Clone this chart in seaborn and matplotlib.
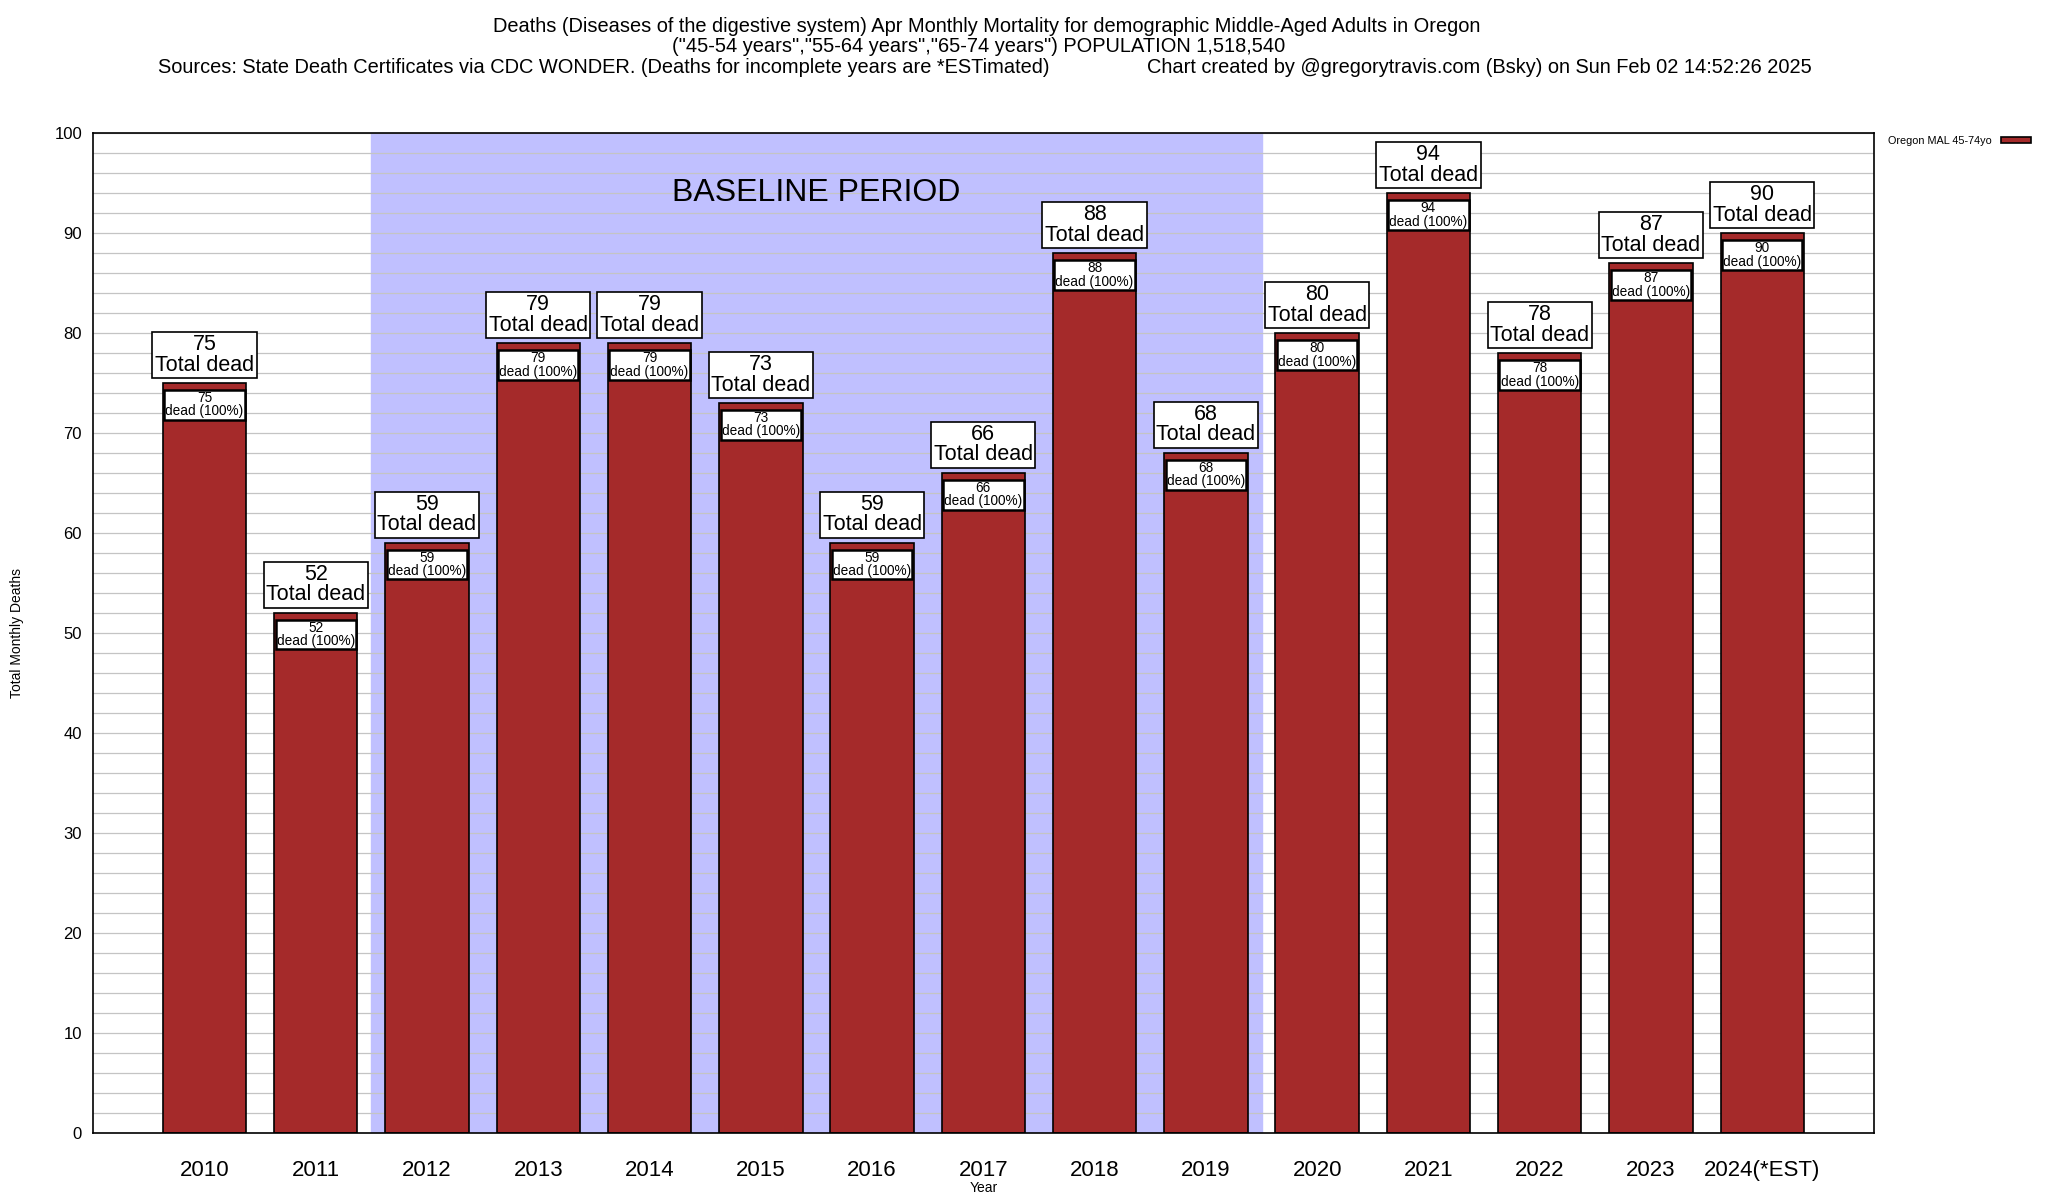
import matplotlib
matplotlib.use("Agg")
import matplotlib.pyplot as plt
import seaborn as sns
import pandas as pd

years = ["2010", "2011", "2012", "2013", "2014", "2015", "2016", "2017",
         "2018", "2019", "2020", "2021", "2022", "2023", "2024(*EST)"]
deaths = [75, 52, 59, 79, 79, 73, 59, 66, 88, 68, 80, 94, 78, 87, 90]
series_name = "Oregon MAL 45-74yo"

df = pd.DataFrame({"Year": years, "Deaths": deaths})

sns.set_theme(style="white")
plt.rcParams["font.family"] = ["Liberation Sans", "DejaVu Sans"]
plt.rcParams.update({"text.color": "black", "axes.labelcolor": "black",
                     "xtick.color": "black", "ytick.color": "black"})

fig = plt.figure(figsize=(20.48, 12), dpi=100)
ax = fig.add_axes([0.0455, 0.0562, 0.8693, 0.8328])

# baseline shading
ax.axvspan(1.5, 9.5, color="#c0c0ff", zorder=0)
ax.text(5.5, 94, "BASELINE PERIOD", ha="center", va="center", fontsize=23, zorder=3)

sns.barplot(data=df, x="Year", y="Deaths", color="#a52a2a", saturation=1,
            width=0.75, edgecolor="black", linewidth=1.2, label=series_name,
            ax=ax, zorder=2)

for i, v in enumerate(deaths):
    ax.text(i, v + 0.75, f"{v}\nTotal dead", ha="center", va="bottom",
            fontsize=15.5, linespacing=0.95, zorder=4,
            bbox=dict(facecolor="white", edgecolor="black", linewidth=1.2,
                      boxstyle="square,pad=0.12"))
    ax.text(i, v - 0.8, f"{v}\ndead (100%)", ha="center", va="top",
            fontsize=9.8, linespacing=0.95, zorder=4,
            bbox=dict(facecolor="white", edgecolor="black", linewidth=1.8,
                      boxstyle="square,pad=0.08"))

ax.set_xlim(-1, 15)
ax.set_ylim(0, 100)
ax.set_yticks(range(0, 101, 10))
ax.set_yticks(range(0, 101, 2), minor=True)
ax.grid(True, which="both", axis="y", color="#c4c4c4", linewidth=0.9, zorder=1)
ax.set_axisbelow(True)
ax.tick_params(axis="y", which="major", direction="in", length=6, labelsize=12, pad=8)
ax.tick_params(axis="y", which="minor", direction="in", length=3)
ax.tick_params(axis="x", length=0, labelsize=16, pad=20)
for s in ax.spines.values():
    s.set_color("black")
    s.set_linewidth(1.2)

ax.set_xlabel("Year", fontsize=10, labelpad=0)
ax.set_ylabel("Total Monthly Deaths", fontsize=10, labelpad=22)

ax.legend(loc="upper left", bbox_to_anchor=(1.004, 1.005), frameon=False,
          markerfirst=False, fontsize=7.8, handlelength=2.8, handleheight=0.4,
          borderaxespad=0.3)

fig.text(0.482, 0.978, "Deaths (Diseases of the digestive system) Apr Monthly Mortality for demographic Middle-Aged Adults in Oregon",
         ha="center", va="center", fontsize=14.4)
fig.text(0.478, 0.961, "(\"45-54 years\",\"55-64 years\",\"65-74 years\") POPULATION 1,518,540",
         ha="center", va="center", fontsize=14.4)
fig.text(0.077, 0.944, "Sources: State Death Certificates via CDC WONDER. (Deaths for incomplete years are *ESTimated)",
         ha="left", va="center", fontsize=14.4)
fig.text(0.560, 0.944, "Chart created by @gregorytravis.com (Bsky) on Sun Feb 02 14:52:26 2025",
         ha="left", va="center", fontsize=14.4)

fig.savefig("out.png", dpi=100)
